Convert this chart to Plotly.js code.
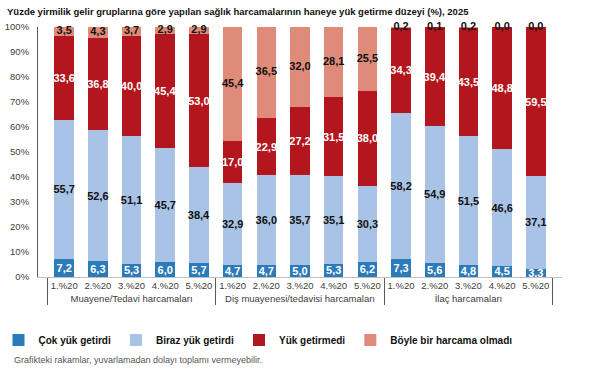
<!DOCTYPE html>
<html>
<head>
<meta charset="utf-8">
<script src="https://cdn.plot.ly/plotly-3.0.1.min.js"></script>
<style>html,body{margin:0;padding:0;background:#fff;}#chart{width:600px;height:379px;}</style>
</head>
<body>
<div id="chart"></div>
<script>
const groups = ["Muayene/Tedavi harcamaları", "Diş muayenesi/tedavisi harcamaları", "İlaç harcamaları"];
const quintiles = ["1.%20", "2.%20", "3.%20", "4.%20", "5.%20"];
const seriesNames = ["Çok yük getirdi", "Biraz yük getirdi", "Yük getirmedi", "Böyle bir harcama olmadı"];
const cokYuk =    [7.2, 6.3, 5.3, 6.0, 5.7,   4.7, 4.7, 5.0, 5.3, 6.2,   7.3, 5.6, 4.8, 4.5, 3.3];
const birazYuk =  [55.7, 52.6, 51.1, 45.7, 38.4,   32.9, 36.0, 35.7, 35.1, 30.3,   58.2, 54.9, 51.5, 46.6, 37.1];
const yukYok =    [33.6, 36.8, 40.0, 45.4, 53.0,   17.0, 22.9, 27.2, 31.5, 38.0,   34.3, 39.4, 43.5, 48.8, 59.5];
const harcamaYok = [3.5, 4.3, 3.7, 2.9, 2.9,   45.4, 36.5, 32.0, 28.1, 25.5,   0.2, 0.1, 0.2, 0.0, 0.0];
const yTicks = [0, 10, 20, 30, 40, 50, 60, 70, 80, 90, 100];

const colors = ["#2b7bba", "#a9c3e6", "#b3161d", "#de8b79"];
const textColors = ["#ffffff", "#111111", "#ffffff", "#111111"];
const labelFont = 'Arial, Liberation Sans, sans-serif';

const outer = [], inner = [];
groups.forEach(g => quintiles.forEach(q => { outer.push(g); inner.push(q); }));

const fmt = v => v.toFixed(1).replace('.', ',');
const all = [cokYuk, birazYuk, yukYok, harcamaYok];
const traces = all.map((vals, i) => ({
  type: 'bar',
  name: seriesNames[i],
  x: [outer, inner],
  y: vals,
  marker: {color: colors[i], line: {width: 0}},
  text: i < 3 ? vals.map(fmt) : undefined,
  textposition: i < 3 ? 'inside' : 'none',
  insidetextanchor: 'middle',
  constraintext: 'none',
  cliponaxis: false,
  textangle: 0,
  textfont: {family: labelFont, size: 11, color: textColors[i], weight: 'bold'},
  hoverinfo: 'skip'
}));

// labels for the top segment, centred on the segment (also for zero-height segments)
const topBase = cokYuk.map((v, k) => v + birazYuk[k] + yukYok[k]);
traces.push({
  type: 'scatter', mode: 'text',
  x: [outer, inner],
  y: harcamaYok.map((v, k) => topBase[k] + v / 2),
  text: harcamaYok.map(fmt),
  textposition: 'middle center',
  textfont: {family: labelFont, size: 11, color: textColors[3], weight: 'bold'},
  cliponaxis: false, showlegend: false, hoverinfo: 'skip'
});

const layout = {
  width: 600, height: 379,
  margin: {l: 38, r: 38, t: 27, b: 102},
  paper_bgcolor: '#fff', plot_bgcolor: '#fff',
  barmode: 'stack',
  bargap: 0.42,
  uniformtext: {minsize: 11, mode: 'show'},
  showlegend: true,
  title: {
    text: '<b>Yüzde yirmilik gelir gruplarına göre yapılan sağlık harcamalarının haneye yük getirme düzeyi (%), 2025</b>',
    font: {family: labelFont, size: 9.5, color: '#111'},
    x: 7 / 600, xanchor: 'left', xref: 'container', y: 0.968, yanchor: 'middle'
  },
  xaxis: {
    type: 'multicategory',
    showline: true, linecolor: '#bfbfbf', linewidth: 1,
    showdividers: true, dividercolor: '#595959', dividerwidth: 1,
    tickangle: 0,
    tickfont: {family: labelFont, size: 9.5, color: '#404040'},
    ticks: '', showgrid: false, zeroline: false
  },
  yaxis: {
    range: [0, 100],
    tickvals: yTicks,
    ticktext: yTicks.map(v => v + '%'),
    showline: true, linecolor: '#595959', linewidth: 1,
    showgrid: false, zeroline: false, ticks: '',
    ticklabelstandoff: 6,
    tickfont: {family: labelFont, size: 9.5, color: '#404040'}
  },
  legend: {
    orientation: 'h', x: 0.43, xanchor: 'center', xref: 'container',
    y: 0.103, yanchor: 'middle', yref: 'container',
    font: {family: labelFont, size: 10, color: '#111', weight: 'bold'},
    itemwidth: 30, traceorder: 'normal'
  },
  annotations: [{
    text: 'Grafikteki rakamlar, yuvarlamadan dolayı toplamı vermeyebilir.',
    xref: 'paper', yref: 'paper', x: -0.05, y: -0.33, xanchor: 'left', yanchor: 'middle',
    showarrow: false,
    font: {family: labelFont, size: 9, color: '#555'}
  }]
};

Plotly.newPlot('chart', traces, layout, {displayModeBar: false, staticPlot: true});
</script>
</body>
</html>
